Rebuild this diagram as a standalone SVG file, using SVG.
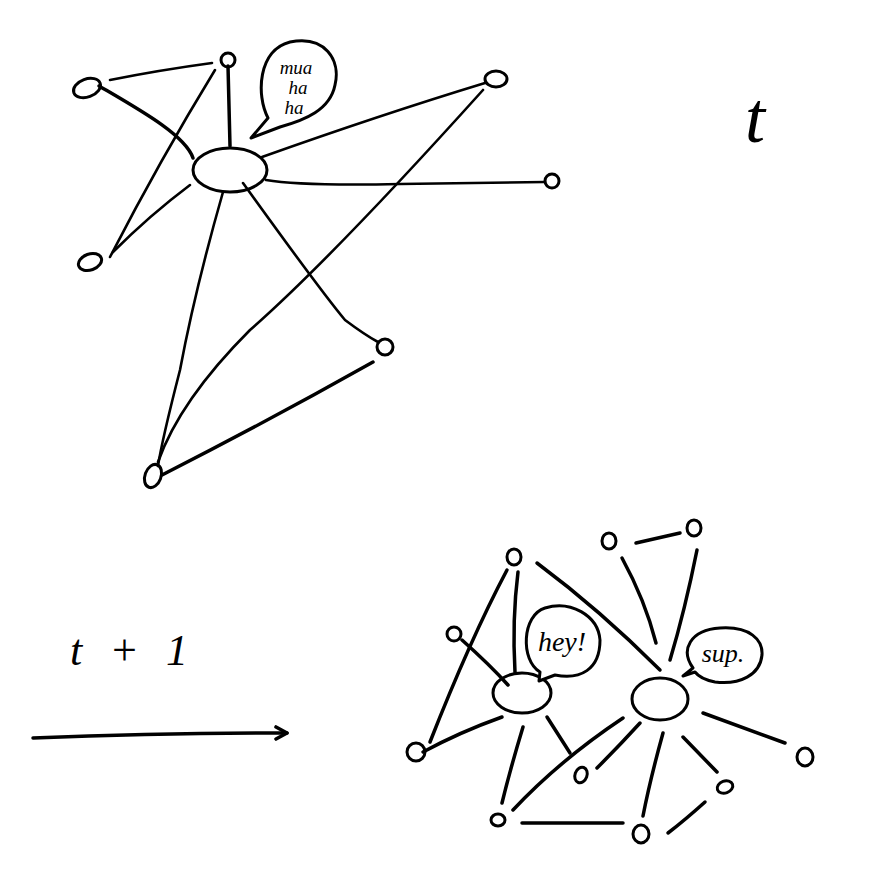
<svg xmlns="http://www.w3.org/2000/svg" width="886" height="869" viewBox="0 0 886 869">
<style>
.e{fill:none;stroke:#000;stroke-width:2.6;stroke-linecap:round;stroke-linejoin:round}
.t{stroke-width:3.5}
.n{fill:none;stroke:#000;stroke-width:3;stroke-linecap:round}
.b{fill:#fff;stroke:#000;stroke-width:3;stroke-linejoin:round}
.h{font-family:"Liberation Serif",serif;font-style:italic;fill:#000}
</style>
<defs>
<marker id="arr" viewBox="0 0 16 16" refX="13" refY="8" markerWidth="16" markerHeight="16" markerUnits="userSpaceOnUse" orient="auto">
<path d="M2,2 L13,8 L2,14" fill="none" stroke="#000" stroke-width="3.6" stroke-linecap="round" stroke-linejoin="round"/>
</marker>
</defs>
<rect width="886" height="869" fill="#fff"/>
<g id="connectors">
<path class="e" d="M110,80 Q160,70 212,63"/>
<path class="e t" d="M99,86 C140,110 185,135 193,158"/>
<path class="e" d="M215,70 Q160,160 110,257"/>
<path class="e" d="M190,185 Q150,215 113,252"/>
<path class="e t" d="M228,66 L230,146"/>
<path class="e" d="M262,157 Q380,115 485,83"/>
<path class="e" d="M266,180 Q300,186 400,184 L545,182"/>
<path class="e" d="M223,192 Q195,290 180,370 Q162,440 158,466"/>
<path class="e" d="M243,183 Q320,290 345,320 Q365,335 378,342"/>
<path class="e" d="M483,90 Q330,260 250,330 Q180,400 158,462"/>
<path class="e t" d="M162,475 Q270,420 373,362"/>
<path class="e t" d="M33,738 Q160,733 287,733" marker-end="url(#arr)"/>
<path class="e t" d="M507,570 Q470,640 430,742"/>
<path class="e t" d="M518,572 Q512,620 515,672"/>
<path class="e t" d="M537,563 Q600,610 660,670"/>
<path class="e t" d="M636,543 L680,533"/>
<path class="e t" d="M622,558 Q645,600 656,643"/>
<path class="e t" d="M697,550 Q685,610 670,660"/>
<path class="e t" d="M462,640 Q490,665 508,685"/>
<path class="e t" d="M423,752 Q460,732 502,717"/>
<path class="e t" d="M523,727 Q510,770 502,803"/>
<path class="e t" d="M547,717 L570,753"/>
<path class="e t" d="M513,810 Q560,760 623,718"/>
<path class="e t" d="M597,768 Q620,745 640,723"/>
<path class="e t" d="M522,823 L623,823"/>
<path class="e t" d="M663,733 Q650,780 643,816"/>
<path class="e t" d="M683,737 L717,772"/>
<path class="e t" d="M705,802 Q685,820 668,833"/>
<path class="e t" d="M703,713 Q750,730 785,743"/>
</g>
<g id="top-hub"><ellipse class="n" cx="230" cy="170" rx="37" ry="22"/></g>
<g id="top-n1"><ellipse class="n" cx="87" cy="88" rx="14" ry="9" transform="rotate(-20 87 88)"/></g>
<g id="top-n2"><circle class="n" cx="228" cy="60" r="7"/></g>
<g id="top-n3"><ellipse class="n" cx="90" cy="262" rx="12" ry="8" transform="rotate(-20 90 262)"/></g>
<g id="top-n4"><ellipse class="n" cx="496" cy="79" rx="11" ry="8"/></g>
<g id="top-n5"><circle class="n" cx="552" cy="181" r="7"/></g>
<g id="top-n6"><circle class="n" cx="385" cy="347" r="8"/></g>
<g id="top-n7"><ellipse class="n" cx="153" cy="476" rx="8" ry="12" transform="rotate(20 153 476)"/></g>
<g id="bubble-mua">
<path class="b" d="M268,118 C256,95 258,50 290,42 C325,35 341,60 335,85 C330,110 305,120 280,127 L251,138 Z"/>
<text class="h" x="296" y="74" font-size="19" text-anchor="middle">mua</text>
<text class="h" x="298" y="94" font-size="19" text-anchor="middle">ha</text>
<text class="h" x="294" y="114" font-size="19" text-anchor="middle">ha</text>
</g>
<text class="h" x="755" y="142" font-size="72" text-anchor="middle">t</text>
<text class="h" x="70" y="665" font-size="44" textLength="118">t + 1</text>
<g id="bot-hey"><ellipse class="n" cx="522" cy="693" rx="29" ry="20"/></g>
<g id="bot-sup"><ellipse class="n" cx="660" cy="699" rx="28" ry="21"/></g>
<g id="bot-n1"><ellipse class="n" cx="514" cy="557" rx="7" ry="8"/></g>
<g id="bot-n2"><circle class="n" cx="454" cy="634" r="7"/></g>
<g id="bot-n3"><ellipse class="n" cx="609" cy="541" rx="7" ry="8"/></g>
<g id="bot-n4"><ellipse class="n" cx="694" cy="528" rx="7" ry="8"/></g>
<g id="bot-n5"><circle class="n" cx="416" cy="752" r="9"/></g>
<g id="bot-n6"><ellipse class="n" cx="581" cy="775" rx="6" ry="8" transform="rotate(20 581 775)"/></g>
<g id="bot-n7"><ellipse class="n" cx="498" cy="820" rx="7" ry="6"/></g>
<g id="bot-n8"><ellipse class="n" cx="641" cy="834" rx="8" ry="9"/></g>
<g id="bot-n9"><ellipse class="n" cx="725" cy="787" rx="8" ry="6" transform="rotate(-20 725 787)"/></g>
<g id="bot-n10"><ellipse class="n" cx="805" cy="757" rx="8" ry="9"/></g>
<g id="bubble-hey">
<path class="b" d="M540,672 C520,660 522,615 545,608 C570,600 598,615 600,640 C600,670 580,680 555,675 L539,681 Z"/>
<text class="h" x="562" y="651" font-size="28" text-anchor="middle">hey!</text>
</g>
<g id="bubble-sup">
<path class="b" d="M693,668 C680,650 690,630 720,628 C750,626 763,640 762,655 C760,675 740,685 715,682 C705,680 698,676 695,672 L683,676 Z"/>
<text class="h" x="723" y="662" font-size="26" text-anchor="middle">sup.</text>
</g>
</svg>
